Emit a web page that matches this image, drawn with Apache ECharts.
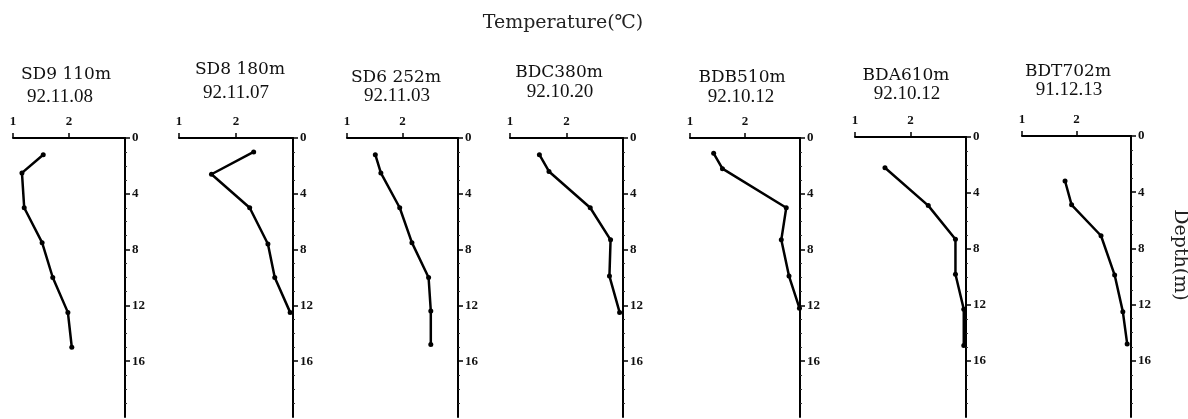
<!DOCTYPE html>
<html><head><meta charset="utf-8">
<script src="https://cdn.jsdelivr.net/npm/echarts@6/dist/echarts.min.js"></script>
<style>html,body{margin:0;padding:0;background:#fff}#c{width:1188px;height:419px}</style>
</head><body><div id="c"></div>
<script>
const stationNames = ['SD9 110m','SD8 180m','SD6 252m','BDC380m','BDB510m','BDA610m','BDT702m'];
const stationDates = ['92.11.08','92.11.07','92.11.03','92.10.20','92.10.12','92.10.12','91.12.13'];
const tempTicks = [1, 2];
const depthTicks = [0, 4, 8, 12, 16];

const depthSD9 = [1.2, 2.5, 5, 7.5, 10, 12.5, 15];
const tempSD9  = [1.54, 1.16, 1.2, 1.52, 1.71, 1.98, 2.05];
const depthSD8 = [1, 2.6, 5, 7.6, 10, 12.5];
const tempSD8  = [2.31, 1.57, 2.24, 2.56, 2.68, 2.95];
const depthSD6 = [1.2, 2.5, 5, 7.5, 10, 12.4, 14.8];
const tempSD6  = [1.51, 1.61, 1.95, 2.17, 2.47, 2.51, 2.51];
const depthBDC = [1.2, 2.4, 5, 7.3, 9.9, 12.5];
const tempBDC  = [1.52, 1.69, 2.42, 2.78, 2.76, 2.94];
const depthBDB = [1.1, 2.2, 5, 7.3, 9.9, 12.2];
const tempBDB  = [1.43, 1.59, 2.75, 2.66, 2.8, 2.99];
const depthBDA = [2.2, 4.9, 7.3, 9.8, 12.3, 14.9];
const tempBDA  = [1.54, 2.32, 2.81, 2.81, 2.96, 2.96];
const depthBDT = [3.2, 4.9, 7.1, 9.9, 12.5, 14.8];
const tempBDT  = [1.79, 1.91, 2.45, 2.70, 2.85, 2.93];

const depths = [depthSD9, depthSD8, depthSD6, depthBDC, depthBDB, depthBDA, depthBDT];
const temps = [tempSD9, tempSD8, tempSD6, tempBDC, tempBDB, tempBDA, tempBDT];

// layout
const gridL = [13, 179, 347, 510, 690, 855, 1022];
const gridR = [125, 293, 458, 623, 800, 966, 1131];
const gridT = [138, 138, 138, 138, 138, 137, 136];
const nameX = [66, 240, 396, 559, 742, 906, 1068];
const nameY = [75, 70, 78, 73, 78, 76, 72];
const dateX = [60, 236, 397, 560, 741, 907, 1069];
const dateY = [97, 93, 96, 92, 97, 94, 90];

const SERIF = '"Liberation Serif", "DejaVu Serif", serif';
const WIDE = '"DejaVu Serif", "Liberation Serif", serif';
const grids = [], xAxes = [], yAxes = [], series = [], graphics = [];
graphics.push({type: 'text', x: 563, y: 23,
  style: {text: 'Temperature(℃)', font: '19px ' + WIDE, fill: '#222', align: 'center', verticalAlign: 'middle'}});
for (let i = 0; i < 7; i++) {
  grids.push({left: gridL[i], width: gridR[i] - gridL[i], top: gridT[i], bottom: 2});
  xAxes.push({type: 'value', gridIndex: i, position: 'top', min: 1, max: 3, interval: 1,
    axisLine: {show: true, lineStyle: {color: '#000', width: 2}},
    axisTick: {show: true, customValues: tempTicks, length: 5, lineStyle: {color: '#000', width: 1.5}},
    axisLabel: {customValues: tempTicks, margin: 10, fontFamily: SERIF, fontSize: 13, fontWeight: 'bold', color: '#111'},
    splitLine: {show: false}});
  yAxes.push({type: 'value', gridIndex: i, position: 'right', inverse: true, min: 0, max: 20, interval: 4,
    axisLine: {show: true, onZero: false, lineStyle: {color: '#000', width: 2}},
    axisTick: {show: true, customValues: depthTicks, length: 5, lineStyle: {color: '#000', width: 1.5}},
    minorTick: {show: true, splitNumber: 4, length: 2, lineStyle: {color: '#333', width: 1}},
    axisLabel: {customValues: depthTicks, margin: 7, fontFamily: SERIF, fontSize: 13, fontWeight: 'bold', color: '#111'},
    splitLine: {show: false}});
  series.push({type: 'line', xAxisIndex: i, yAxisIndex: i,
    data: temps[i].map((t, k) => [t, depths[i][k]]),
    symbol: 'circle', symbolSize: 5, showSymbol: true,
    lineStyle: {color: '#000', width: 2.5}, itemStyle: {color: '#000'}, silent: true, animation: false});
  graphics.push({type: 'text', x: nameX[i], y: nameY[i],
    style: {text: stationNames[i], font: '17px ' + WIDE, fill: '#111', align: 'center', verticalAlign: 'middle'}});
  graphics.push({type: 'text', x: dateX[i], y: dateY[i],
    style: {text: stationDates[i], font: '19px ' + SERIF, fill: '#111', align: 'center', verticalAlign: 'middle'}});
}
graphics.push({type: 'text', x: 1180, y: 255, rotation: -Math.PI / 2,
  style: {text: 'Depth(m)', font: '19px ' + WIDE, fill: '#222', align: 'center', verticalAlign: 'middle'}});

const chart = echarts.init(document.getElementById('c'), null, {renderer: 'canvas'});
chart.setOption({
  backgroundColor: '#fff', animation: false,
  grid: grids, xAxis: xAxes, yAxis: yAxes, series: series, graphic: graphics
});
</script></body></html>
